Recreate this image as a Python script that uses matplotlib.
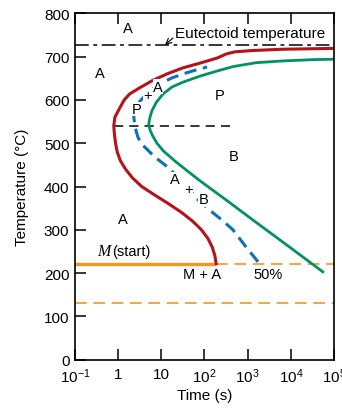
import matplotlib
matplotlib.use('Agg')
import matplotlib.pyplot as plt

plt.rcParams['font.family'] = ['Liberation Sans', 'DejaVu Sans']
plt.rcParams['mathtext.default'] = 'regular'

# start curve (red), time in s, temperature in degC
start_t = [186, 174, 151, 120, 85, 53, 29.5, 14.8, 7.1, 3.5, 2.14, 1.48, 1.12, 0.95, 0.87, 0.82, 0.79,
           0.84, 1.07, 1.38, 1.86, 3.16, 6.3, 13.5, 31.6, 79, 200, 316, 500, 1260, 6300, 100000]
start_T = [222, 240, 260, 280, 300, 320, 340, 360, 380, 400, 420, 440, 460, 480, 500, 520, 540,
           560, 580, 600, 614, 628, 645, 660, 674, 685, 697, 706, 711, 714, 717, 719]

# 50% curve (blue dashed)
half_t = [1740, 890, 457, 251, 141, 68, 40, 23, 14, 7.1, 5.0, 3.5, 2.9, 2.6, 2.4, 2.3, 2.6, 3.2,
          5.0, 11, 17.8, 31.6, 63, 115]
half_T = [226, 262, 300, 323, 343, 371, 398, 424, 445, 468, 483, 498, 513, 528, 545, 561, 580, 597,
          618, 641, 651, 660, 669, 676]

# finish curve (green)
end_t = [55000, 10000, 1580, 316, 79, 40, 20, 11.2, 7.9, 6.3, 5.5, 5.1, 5.4, 6.0, 7.6, 11, 17.8, 31.6,
         79, 200, 457, 1580, 6600, 31600, 100000]
end_T = [203, 258, 317, 369, 413, 436, 460, 482, 500, 517, 530, 544, 558, 574, 594, 614, 630, 641,
         655, 667, 677, 686, 690, 693, 694]

eutectoid_T = 727
ms_T = 220
m50_T = 130
nose_T = 540

red = '#B5121B'
green = '#00935F'
blue = '#0B72BA'
orange = '#F7941D'

fig = plt.figure(figsize=(3.42, 4.10), dpi=100)
ax = fig.add_axes([0.2193, 0.1202, 0.7573, 0.8449])
ax.set_xscale('log')
ax.set_xlim(0.1, 1e5)
ax.set_ylim(0, 800)

# horizontal reference lines
ax.plot([0.1, 1e5], [eutectoid_T, eutectoid_T], color='black', lw=1.1, dashes=[9, 3, 2.5, 3])
ax.plot([0.1, start_t[0]], [ms_T, ms_T], color=orange, lw=2.4, solid_capstyle='butt')
ax.plot([start_t[0], 1e5], [ms_T, ms_T], color=orange, lw=1.2, dashes=[7, 4])
ax.plot([0.1, 1e5], [m50_T, m50_T], color=orange, lw=1.2, dashes=[7, 4])
ax.plot([0.79, 380], [nose_T, nose_T], color='black', lw=1.1, dashes=[6, 4])

# transformation curves
ax.plot(start_t, start_T, color=red, lw=2.2)
ax.plot(end_t, end_T, color=green, lw=2.0)
ax.plot(half_t, half_T, color=blue, lw=2.2, dashes=[4, 2.2])

lbl = dict(fontsize=10.5, ha='center', va='center')
box = dict(facecolor='white', edgecolor='none', pad=0.3)
ax.text(1.69, 766, 'A', **lbl)
ax.text(0.38, 662, 'A', **lbl)
ax.text(1.29, 325, 'A', **lbl)
ax.text(219, 611, 'P', **lbl)
ax.text(480, 470, 'B', **lbl)
ax.text(2.73, 579, 'P', bbox=box, **lbl)
ax.text(4.9, 611, '+', bbox=box, **lbl)
ax.text(8.3, 630, 'A', bbox=box, **lbl)
ax.text(21, 417, 'A', bbox=box, **lbl)
ax.text(42, 394, '+', bbox=box, **lbl)
ax.text(93, 371, 'B', bbox=box, **lbl)
ax.text(87, 198, 'M + A', **lbl)
ax.text(2900, 198, '50%', **lbl)
ax.text(0.335, 252, 'M', fontsize=11.5, family='Liberation Serif', style='italic', ha='left', va='center')
ax.text(0.72, 252, '(start)', fontsize=10.5, ha='left', va='center')
ax.text(21, 754, 'Eutectoid temperature', fontsize=11, ha='left', va='center')
ax.annotate('', xy=(12.2, 727), xytext=(18.6, 743),
            arrowprops=dict(arrowstyle='->', color='black', lw=0.8, shrinkA=0, shrinkB=0))

xticks = [0.1, 1, 10, 100, 1e3, 1e4, 1e5]
xticklabels = ['$10^{-1}$', '1', '10', '$10^{2}$', '$10^{3}$', '$10^{4}$', '$10^{5}$']
ax.set_xticks(xticks)
ax.set_xticklabels(xticklabels)
ax.minorticks_off()
ax.set_yticks(range(0, 801, 100))
ax.tick_params(axis='both', direction='in', length=8, width=1.1, labelsize=11, pad=4)
ax.tick_params(axis='x', top=True, pad=5)
for s in ax.spines.values():
    s.set_linewidth(1.2)

ax.set_xlabel('Time (s)', fontsize=11, labelpad=2)
ax.set_ylabel('Temperature (°C)', fontsize=11, labelpad=11)

fig.savefig('out.png', dpi=100)
